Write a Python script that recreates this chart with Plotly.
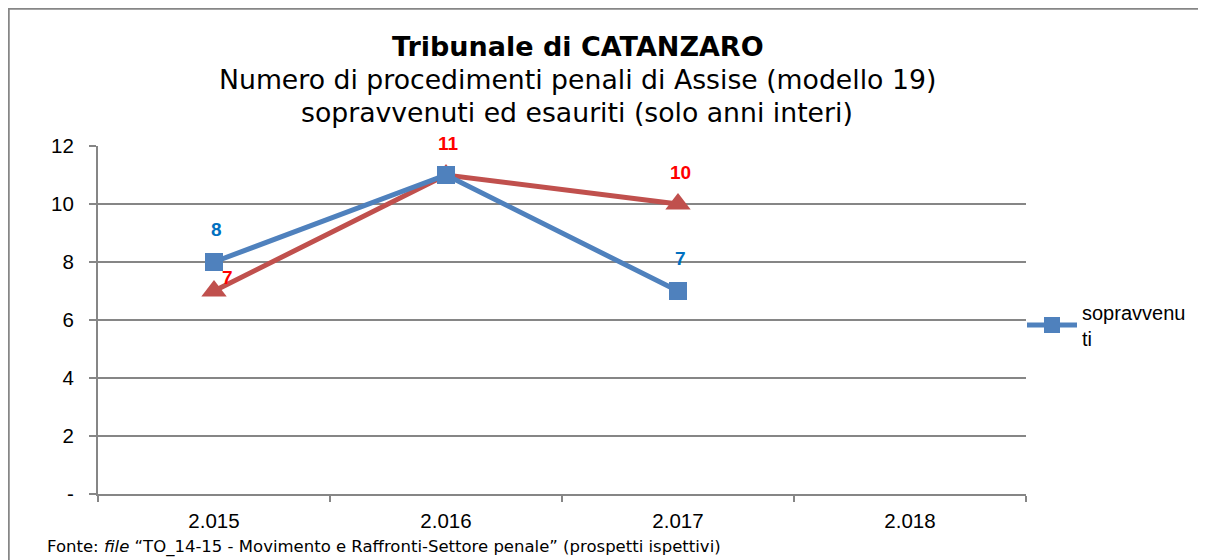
import plotly.graph_objects as go

categories = ["2.015", "2.016", "2.017", "2.018"]
sopravvenuti = [8, 11, 7, None]
esauriti = [7, 11, 10, None]
y_tickvals = [0, 2, 4, 6, 8, 10, 12]
y_ticktext = ["-", "2", "4", "6", "8", "10", "12"]

BLUE = "#4F81BD"
RED = "#C0504D"
GRID = "#868686"

OFF = 8  # page body margin
W, H = 1206 - OFF, 560 - OFF
L, R, T, B = 98 - OFF, 180, 146 - OFF, 66
PW, PH = W - L - R, H - T - B


def px_x(p):
    return (p - OFF - L) / PW


def px_y(p):
    return (H - B - (p - OFF)) / PH


fig = go.Figure()
fig.add_trace(go.Scatter(
    x=categories, y=esauriti, name="esauriti", mode="lines+markers",
    line=dict(color=RED, width=5),
    marker=dict(symbol="triangle-up", size=22, color=RED),
    showlegend=False, cliponaxis=False))
fig.add_trace(go.Scatter(
    x=categories, y=sopravvenuti, name="sopravvenu<br>ti", mode="lines+markers",
    line=dict(color=BLUE, width=5),
    marker=dict(symbol="square", size=18, color=BLUE),
    cliponaxis=False))

LABEL_FONT = "Liberation Sans, Arial"
annotations = []
# data labels (x given as category index)
for i, v in enumerate(sopravvenuti):
    if v is None or i == 1:
        continue
    annotations.append(dict(x=i, y=v, xref="x", yref="y", text=f"<b>{v}</b>",
                            showarrow=False, yshift=33, xshift=2,
                            font=dict(family=LABEL_FONT, size=19, color="#0070C0")))
for i, v in enumerate(esauriti):
    if v is None:
        continue
    xs, ys = (13, 14) if i == 0 else (2, 32)
    annotations.append(dict(x=i, y=v, xref="x", yref="y", text=f"<b>{v}</b>",
                            showarrow=False, yshift=ys, xshift=xs,
                            font=dict(family=LABEL_FONT, size=19, color="#FF0000")))

title_font = "DejaVu Sans, Verdana"
annotations += [
    dict(x=px_x(578), y=px_y(47), xref="paper", yref="paper",
         text="<b>Tribunale di CATANZARO</b>", showarrow=False,
         font=dict(family=title_font, size=27, color="black"), yanchor="middle"),
    dict(x=px_x(577), y=px_y(80), xref="paper", yref="paper",
         text="Numero di procedimenti penali di Assise (modello 19)", showarrow=False,
         font=dict(family=title_font, size=26.7, color="black"), yanchor="middle"),
    dict(x=px_x(577), y=px_y(112), xref="paper", yref="paper",
         text="sopravvenuti ed esauriti (solo anni interi)", showarrow=False,
         font=dict(family=title_font, size=26.7, color="black"), yanchor="middle"),
    dict(x=px_x(45), y=px_y(547), xref="paper", yref="paper", xanchor="left", yanchor="middle",
         text="Fonte: <i>file</i> “TO_14-15 - Movimento e Raffronti-Settore penale” (prospetti ispettivi)",
         showarrow=False, font=dict(family=title_font, size=16.5, color="black")),
]

shapes = [
    dict(type="line", xref="paper", yref="paper", x0=px_x(7), x1=px_x(1215), y0=px_y(8.5), y1=px_y(8.5),
         line=dict(color=GRID, width=2.5)),
    dict(type="line", xref="paper", yref="paper", x0=px_x(8.5), x1=px_x(8.5), y0=px_y(7), y1=px_y(570),
         line=dict(color=GRID, width=2.5)),
]

fig.update_layout(
    width=W, height=H,
    margin=dict(l=L, r=R, t=T, b=B),
    paper_bgcolor="white", plot_bgcolor="white",
    font=dict(family=LABEL_FONT, size=20, color="black"),
    xaxis=dict(type="category", categoryorder="array", categoryarray=categories,
               range=[-0.5, 3.5], showgrid=False, showline=True, linecolor=GRID, linewidth=2,
               ticks="outside", tickson="boundaries", ticklen=6, tickcolor=GRID, tickwidth=2,
               tickfont=dict(size=20.5), zeroline=False, ticklabelstandoff=7),
    yaxis=dict(range=[0, 12], tickvals=y_tickvals, ticktext=y_ticktext,
               showgrid=True, gridcolor=GRID, gridwidth=1.5, showline=True, linecolor=GRID,
               linewidth=2, ticks="outside", ticklen=7, tickcolor=GRID, tickwidth=1.5,
               tickfont=dict(size=20.5), zeroline=False, ticklabelstandoff=11),
    legend=dict(x=px_x(1022), y=px_y(325), xanchor="left", yanchor="middle",
                font=dict(size=20), bgcolor="rgba(0,0,0,0)", itemwidth=50,
                borderwidth=0, tracegroupgap=0),
    annotations=annotations,
    shapes=shapes,
)

fig.write_html("out.html")
